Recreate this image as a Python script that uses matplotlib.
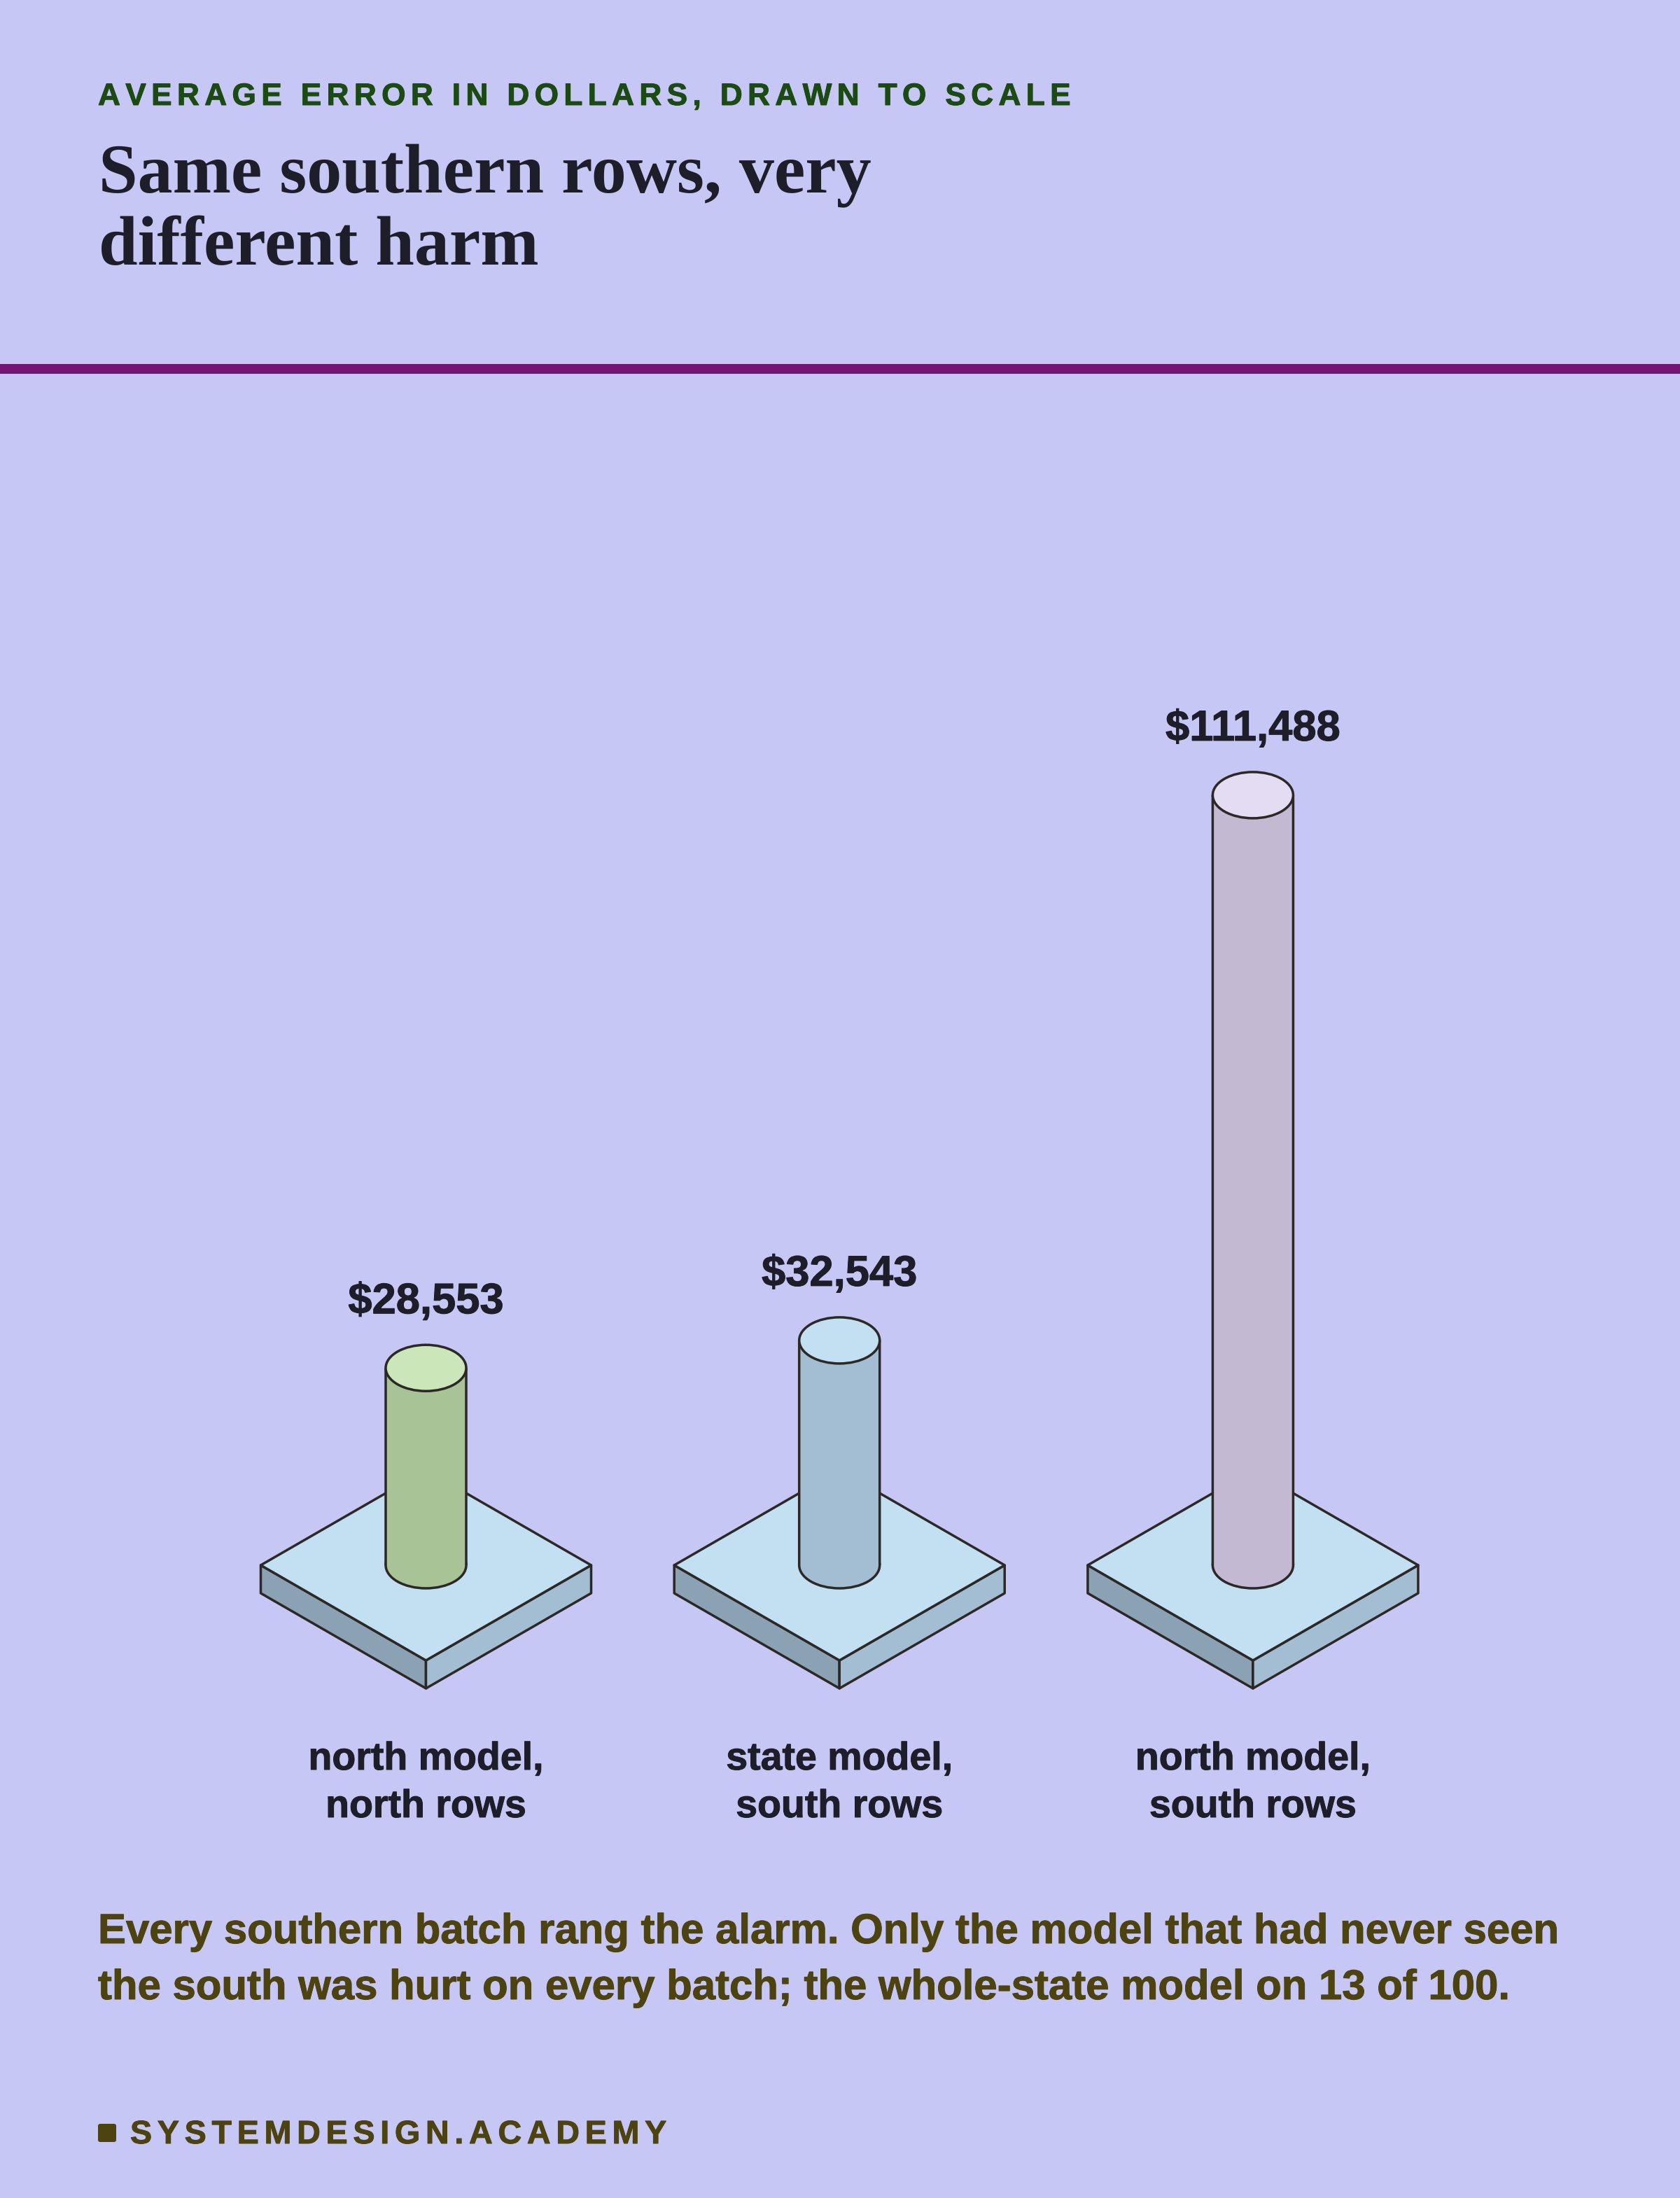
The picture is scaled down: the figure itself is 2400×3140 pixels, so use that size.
import matplotlib
matplotlib.use('Agg')
import matplotlib.pyplot as plt
import matplotlib.patheffects as pe
from matplotlib.patches import Ellipse, Polygon, Rectangle, FancyBboxPatch
from matplotlib.transforms import Affine2D

# ---- data ----
categories = [["north model,", "north rows"],
              ["state model,", "south rows"],
              ["north model,", "south rows"]]
values = [28553, 32543, 111488]
value_labels = ["$28,553", "$32,543", "$111,488"]
body_colors = ["#A8C496", "#A3BED2", "#C3B9D3"]
top_colors = ["#CBE6B8", "#C3DFF2", "#E3DCF3"]

eyebrow = "AVERAGE ERROR IN DOLLARS, DRAWN TO SCALE"
title_lines = ["Same southern rows, very", "different harm"]
note_lines = ["Every southern batch rang the alarm. Only the model that had never seen",
              "the south was hurt on every batch; the whole-state model on 13 of 100."]
brand = "SYSTEMDESIGN.ACADEMY"

# ---- style ----
plt.rcParams["text.hinting"] = "no_hinting"
BG = "#C6C7F5"; INK = "#1E1E2A"; LINE = "#2B2826"; OLIVE = "#4D4310"; GREEN = "#1B4A12"; RULE = "#741574"
PLATE_TOP = "#C3DFF2"; PLATE_R = "#A3BED2"; PLATE_L = "#8BA2B4"
W, H = 2400, 3140
PT = 0.36            # points per pixel at 200 dpi
LW = 3.5 * PT
SANS = "Liberation Sans"; SERIF = "Liberation Serif"
THIN = "\u2006"

def spaced(s):
    return THIN.join(s)

def heavy(color, px=1.0):
    return [pe.withStroke(linewidth=px * PT, foreground=color)]

fig = plt.figure(figsize=(W / 200, H / 200), dpi=200, facecolor=BG)
PX = Affine2D().scale(1, -1).translate(0, H)   # top-left pixel coordinates

# chart axes: x = category index, y = dollars
X0, STEP = 608.5, 590.7
Y0 = 2236.0
K = 1100.1 / 111488   # pixels per dollar
ax = fig.add_axes([0, 0, 1, 1])
ax.set_xlim(-X0 / STEP, (W - X0) / STEP)
ax.set_ylim((Y0 - H) / K, Y0 / K)
ax.axis("off")

def dx(p): return p / STEP
def dy(p): return p / K

HW, HH, TH = 236, 136, 40     # plate half-width, half-height, thickness
RX, RY = 57.5, 33             # cylinder radii

for i, (v, bc, tc, lab, cat) in enumerate(zip(values, body_colors, top_colors, value_labels, categories)):
    kw = dict(edgecolor=LINE, linewidth=LW, joinstyle="round", zorder=2)
    left, right = i - dx(HW), i + dx(HW)
    back, mid, front = dy(HH), 0, -dy(HH)
    t = dy(TH)
    ax.add_patch(Polygon([(left, mid), (i, front), (i, front - t), (left, mid - t)], facecolor=PLATE_L, **kw))
    ax.add_patch(Polygon([(right, mid), (i, front), (i, front - t), (right, mid - t)], facecolor=PLATE_R, **kw))
    ax.add_patch(Polygon([(left, mid), (i, back), (right, mid), (i, front)], facecolor=PLATE_TOP, **kw))
    # cylinder rising from the plate centre to the value
    w, h = 2 * dx(RX), 2 * dy(RY)
    ax.add_patch(Ellipse((i, 0), w, h, facecolor=bc, edgecolor=LINE, linewidth=LW, zorder=3))
    ax.add_patch(Rectangle((i - dx(RX), 0), w, v, facecolor=bc, edgecolor="none", zorder=3))
    ax.plot([i - dx(RX)] * 2, [0, v], color=LINE, lw=LW, zorder=4, solid_capstyle="butt", snap=False)
    ax.plot([i + dx(RX)] * 2, [0, v], color=LINE, lw=LW, zorder=4, solid_capstyle="butt", snap=False)
    ax.add_patch(Ellipse((i, v), w, h, facecolor=tc, edgecolor=LINE, linewidth=LW, zorder=5))
    ax.annotate(lab, xy=(i, v), xytext=(0, 78 * PT), textcoords="offset points", ha="center", va="baseline",
                family=SANS, weight="bold", fontsize=61.5 * PT, color=INK, zorder=6, path_effects=heavy(INK))
    for line, off in zip(cat, (292, 360)):
        ax.annotate(line, xy=(i, 0), xytext=(0, -off * PT), textcoords="offset points", ha="center", va="baseline",
                    family=SANS, weight="bold", fontsize=55.5 * PT, color=INK, zorder=6, path_effects=heavy(INK))

# header
fig.text(140, 150, spaced(eyebrow), transform=PX, family=SANS, weight="bold", fontsize=44.2 * PT,
         color=GREEN, va="baseline", ha="left", path_effects=heavy(GREEN))
for line, y in zip(title_lines, (274, 378)):
    fig.text(141, y, line, transform=PX, family=SERIF, weight="bold", fontsize=100 * PT,
             color=INK, va="baseline", ha="left")
fig.add_artist(Rectangle((0, 520), W, 14, transform=PX, facecolor=RULE, edgecolor="none"))

# note
for line, y in zip(note_lines, (2776, 2856)):
    fig.text(140, y, line, transform=PX, family=SANS, weight="bold", fontsize=59.9 * PT,
             color=OLIVE, va="baseline", ha="left", path_effects=heavy(OLIVE))

# footer
fig.add_artist(FancyBboxPatch((143, 3037), 20, 20, boxstyle="round,pad=3,rounding_size=3", transform=PX,
                              facecolor=OLIVE, edgecolor="none"))
fig.text(186, 3062, spaced(brand), transform=PX, family=SANS, weight="bold", fontsize=46.6 * PT,
         color=OLIVE, va="baseline", ha="left", path_effects=heavy(OLIVE))

fig.savefig("out.png", dpi=200, facecolor=BG)
